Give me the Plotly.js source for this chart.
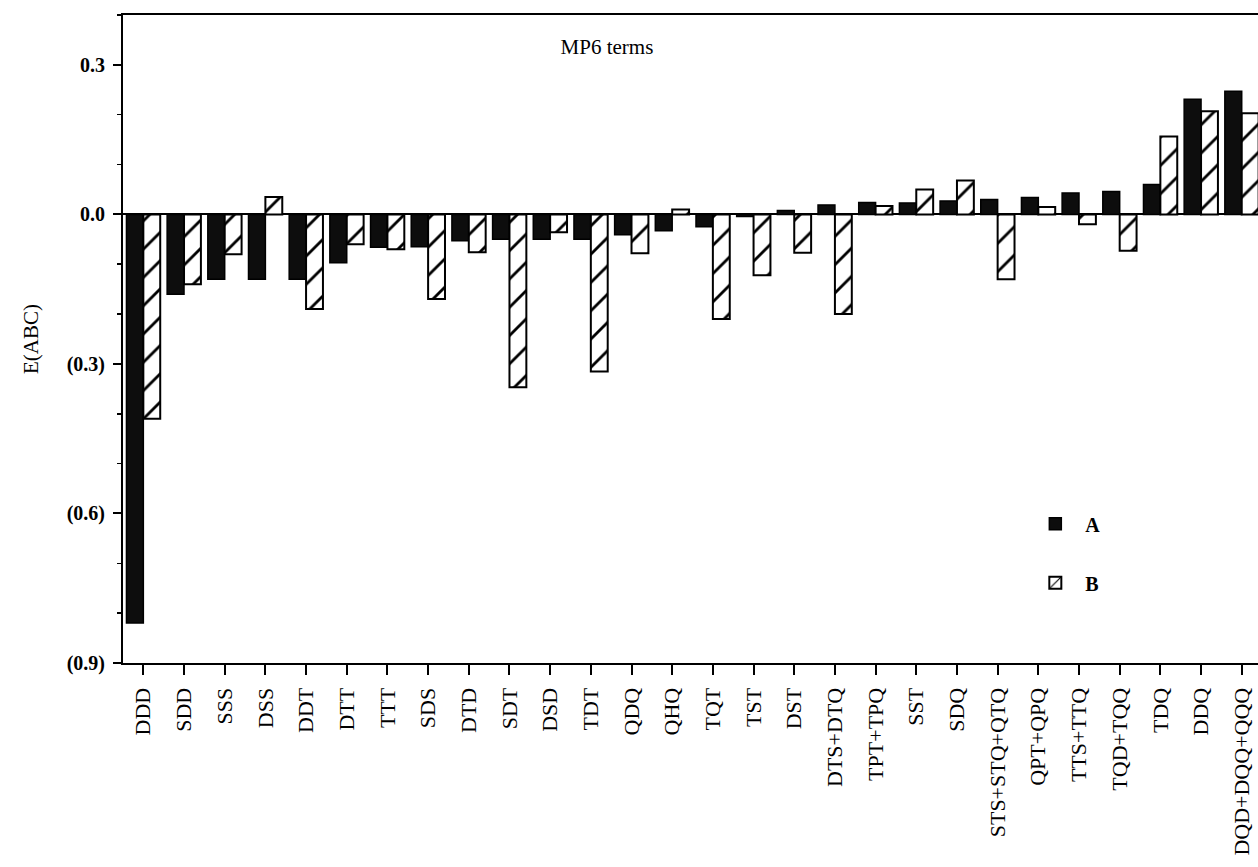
<!DOCTYPE html>
<html>
<head>
<meta charset="utf-8">
<script src="https://cdn.plot.ly/plotly-3.0.1.min.js"></script>
<style>
html,body{margin:0;padding:0;background:#fff;overflow:hidden;}
#chart{width:1258px;height:867px;}
</style>
</head>
<body>
<div id="chart"></div>
<script>
var categories = ["DDD","SDD","SSS","DSS","DDT","DTT","TTT","SDS","DTD","SDT","DSD","TDT","QDQ","QHQ","TQT","TST","DST","DTS+DTQ","TPT+TPQ","SST","SDQ","STS+STQ+QTQ","QPT+QPQ","TTS+TTQ","TQD+TQQ","TDQ","DDQ","DQD+DQQ+QQQ"];
var seriesA = [-0.82,-0.16,-0.13,-0.13,-0.13,-0.097,-0.066,-0.065,-0.053,-0.05,-0.05,-0.05,-0.041,-0.033,-0.025,-0.004,0.008,0.019,0.024,0.023,0.027,0.030,0.034,0.043,0.046,0.060,0.231,0.247];
var seriesB = [-0.41,-0.14,-0.08,0.035,-0.19,-0.06,-0.07,-0.17,-0.076,-0.347,-0.036,-0.315,-0.078,0.01,-0.21,-0.122,-0.077,-0.20,0.017,0.05,0.068,-0.13,0.015,-0.02,-0.073,0.156,0.207,0.203];
var yTickVals = [0.3,0.0,-0.3,-0.6,-0.9];
var yTickText = ["0.3","0.0","(0.3)","(0.6)","(0.9)"];

var serif = "Liberation Serif, Times New Roman, serif";

var traces = [
  {
    type: "bar", name: "A", x: categories, y: seriesA,
    legendgroup: "a",
    marker: {color: "#0d0d0d", line: {color: "#000", width: 1.5}}
  },
  {
    type: "bar", name: "B", x: categories, y: seriesB,
    legendgroup: "b",
    marker: {
      color: "#fff",
      line: {color: "#000", width: 2},
      pattern: {shape: "/", size: 20, solidity: 0.14, fgcolor: "#000", bgcolor: "#fff"}
    }
  }
];

var layout = {
  width: 1258, height: 867,
  paper_bgcolor: "#fff", plot_bgcolor: "#fff",
  margin: {l: 123, r: 0, t: 15, b: 204},
  barmode: "group", bargap: 0.17, bargroupgap: 0,
  showlegend: true,
  legend: {
    x: 0.795, y: 0.245, xanchor: "left", yanchor: "top",
    font: {family: serif, size: 20, color: "#000", weight: "bold"},
    traceorder: "grouped", tracegroupgap: 30,
    itemwidth: 50,
    bgcolor: "rgba(0,0,0,0)"
  },
  title: {
    text: "MP6 terms",
    x: 0.4264, xanchor: "center", xref: "paper",
    y: 1 - 47/867, yanchor: "middle", yref: "container",
    font: {family: serif, size: 21, color: "#000"}
  },
  xaxis: {
    type: "category",
    range: [-0.5, 27.4],
    showline: true, linecolor: "#000", linewidth: 2, mirror: true,
    ticks: "outside", ticklen: 10, tickwidth: 2, tickcolor: "#000",
    tickangle: -90,
    ticklabelstandoff: 4,
    tickfont: {family: serif, size: 22, color: "#000"},
    showgrid: false, zeroline: false
  },
  yaxis: {
    range: [-0.9, 0.4],
    tickvals: yTickVals, ticktext: yTickText,
    showline: true, linecolor: "#000", linewidth: 2, mirror: false,
    ticks: "outside", ticklen: 8, tickwidth: 2, tickcolor: "#000",
    ticklabelstandoff: 4,
    minor: {dtick: 0.1, tick0: 0, ticks: "outside", ticklen: 4, tickwidth: 1.5, tickcolor: "#000", showgrid: false},
    tickfont: {family: serif, size: 20, color: "#000", weight: "bold"},
    showgrid: false,
    zeroline: true, zerolinecolor: "#000", zerolinewidth: 2,
    title: {text: "E(ABC)", font: {family: serif, size: 21, color: "#000"}, standoff: 22}
  }
};

Plotly.newPlot("chart", traces, layout, {displayModeBar: false, staticPlot: true});
</script>
</body>
</html>
